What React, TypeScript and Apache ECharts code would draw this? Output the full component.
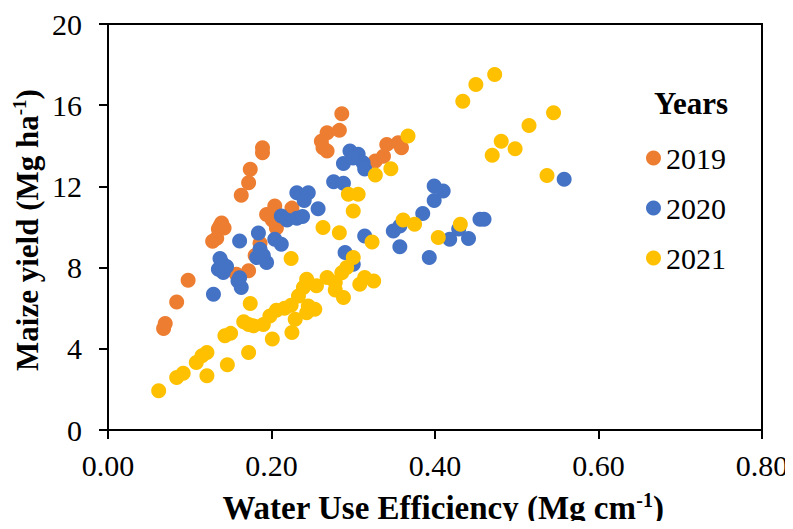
import React, { useEffect, useRef } from "react";
import * as echarts from "echarts";

// Water use efficiency (Mg cm-1) and maize yield (Mg ha-1) per season
const wue2019 = [0.068, 0.070, 0.084, 0.098, 0.128, 0.133, 0.135, 0.139, 0.142, 0.137, 0.157, 0.172, 0.163, 0.172, 0.174, 0.189, 0.189, 0.180, 0.186, 0.194, 0.204, 0.206, 0.201, 0.225, 0.263, 0.261, 0.268, 0.268, 0.283, 0.286, 0.327, 0.337, 0.341, 0.355, 0.359];
const yield2019 = [5.00, 5.25, 6.31, 7.38, 9.30, 9.45, 9.90, 10.20, 9.95, 10.05, 7.67, 7.84, 11.56, 12.18, 12.84, 13.66, 13.90, 8.60, 9.20, 10.62, 11.03, 9.95, 10.35, 10.93, 13.90, 14.23, 14.64, 13.74, 14.76, 15.58, 13.25, 13.49, 14.07, 14.15, 13.90];

const wue2020 = [0.129, 0.135, 0.139, 0.141, 0.137, 0.145, 0.159, 0.163, 0.161, 0.161, 0.184, 0.182, 0.186, 0.194, 0.190, 0.204, 0.212, 0.212, 0.219, 0.231, 0.238, 0.231, 0.245, 0.240, 0.257, 0.276, 0.288, 0.288, 0.296, 0.306, 0.300, 0.312, 0.314, 0.290, 0.300, 0.314, 0.349, 0.357, 0.357, 0.385, 0.393, 0.399, 0.399, 0.410, 0.418, 0.429, 0.441, 0.455, 0.460, 0.558];
const yield2020 = [6.69, 7.92, 8.25, 7.76, 8.45, 8.05, 7.34, 7.02, 7.50, 9.31, 9.70, 8.50, 8.90, 8.25, 8.60, 9.40, 9.15, 10.54, 10.35, 10.43, 10.52, 11.69, 11.69, 11.30, 10.90, 12.23, 12.15, 13.13, 13.74, 13.58, 13.40, 13.17, 12.86, 8.74, 8.17, 9.56, 9.80, 10.05, 9.03, 10.66, 8.50, 11.31, 12.02, 11.77, 9.40, 9.90, 9.43, 10.38, 10.38, 12.35];

const wue2021 = [0.062, 0.084, 0.092, 0.108, 0.115, 0.121, 0.121, 0.143, 0.150, 0.146, 0.172, 0.174, 0.166, 0.172, 0.178, 0.190, 0.198, 0.206, 0.216, 0.224, 0.201, 0.225, 0.229, 0.224, 0.233, 0.239, 0.243, 0.243, 0.253, 0.245, 0.255, 0.268, 0.278, 0.278, 0.288, 0.286, 0.292, 0.300, 0.263, 0.283, 0.300, 0.294, 0.306, 0.308, 0.314, 0.325, 0.323, 0.327, 0.346, 0.361, 0.375, 0.367, 0.404, 0.431, 0.434, 0.450, 0.473, 0.470, 0.481, 0.498, 0.515, 0.537, 0.545];
const yield2021 = [1.93, 2.59, 2.80, 3.33, 3.66, 3.82, 2.67, 4.64, 4.76, 3.21, 3.82, 6.23, 5.33, 5.20, 5.13, 5.20, 5.62, 5.90, 6.00, 6.15, 4.48, 4.80, 5.46, 8.45, 6.60, 7.02, 7.43, 5.78, 5.95, 6.11, 7.10, 7.51, 7.26, 6.90, 6.53, 7.75, 8.00, 8.50, 9.97, 9.72, 10.79, 11.61, 11.61, 7.18, 7.51, 7.34, 9.26, 12.56, 12.87, 10.34, 10.13, 14.48, 9.48, 10.13, 16.20, 17.02, 17.51, 13.54, 14.23, 13.86, 15.00, 12.54, 15.63];

const years = ["2019", "2020", "2021"];
const colors = ["#ED7D31", "#4472C4", "#FFC000"];
const xTicks = { min: 0, max: 0.8, interval: 0.2 };
const yTicks = { min: 0, max: 20, interval: 4 };

const FONT = "Liberation Serif";

function pairs(xs: number[], ys: number[]) {
  return xs.map((x, i) => [x, ys[i]]);
}

function titleRich(size: number) {
  return {
    b: { fontFamily: FONT, fontWeight: "bold", fontSize: size, color: "#000", lineHeight: size + 3 },
    s: { fontFamily: FONT, fontWeight: "bold", fontSize: Math.round(size * 0.6), color: "#000", verticalAlign: "top", lineHeight: size + 3 },
  };
}

export default function App() {
  const ref = useRef<HTMLDivElement>(null);

  useEffect(() => {
    if (!ref.current) return;
    const chart = echarts.init(ref.current, null, { renderer: "svg" });
    const seriesData = [pairs(wue2019, yield2019), pairs(wue2020, yield2020), pairs(wue2021, yield2021)];

    chart.setOption({
      animation: false,
      textStyle: { fontFamily: FONT },
      grid: {
        left: 108,
        right: 31,
        top: 24,
        bottom: 99,
        show: true,
        borderColor: "#000",
        borderWidth: 2,
      },
      xAxis: {
        type: "value",
        ...xTicks,
        splitLine: { show: false },
        axisLine: { show: true, lineStyle: { color: "#000", width: 2 } },
        axisTick: { show: true, inside: false, length: 9, lineStyle: { color: "#000", width: 2 } },
        axisLabel: {
          color: "#000",
          fontFamily: FONT,
          fontSize: 30,
          margin: 20,
          formatter: (v: number) => v.toFixed(2),
        },
      },
      yAxis: {
        type: "value",
        ...yTicks,
        splitLine: { show: false },
        axisLine: { show: true, lineStyle: { color: "#000", width: 2 } },
        axisTick: { show: true, inside: false, length: 9, lineStyle: { color: "#000", width: 2 } },
        axisLabel: { color: "#000", fontFamily: FONT, fontSize: 30, margin: 26 },
      },
      legend: {
        orient: "vertical",
        left: 641,
        top: 138,
        itemWidth: 15,
        itemHeight: 15,
        itemGap: 20,
        icon: "circle",
        data: years,
        textStyle: { color: "#000", fontFamily: FONT, fontSize: 30 },
      },
      graphic: [
        {
          type: "text",
          x: 691,
          y: 103,
          style: {
            text: "Years",
            fontFamily: FONT,
            fontWeight: "bold",
            fontSize: 31,
            fill: "#000",
            align: "center",
            verticalAlign: "middle",
          },
        },
        {
          type: "text",
          x: 443,
          y: 508,
          style: {
            text: "{b|Water Use Efficiency (Mg cm}{s|-1}{b|)}",
            align: "center",
            verticalAlign: "middle",
            rich: titleRich(33),
          },
        },
        {
          type: "text",
          x: 27,
          y: 230,
          rotation: Math.PI / 2,
          style: {
            text: "{b|Maize yield (Mg ha}{s|-1}{b|)}",
            align: "center",
            verticalAlign: "middle",
            rich: titleRich(31),
          },
        },
      ],
      series: years.map((name, i) => ({
        name,
        type: "scatter",
        symbol: "circle",
        symbolSize: 15,
        itemStyle: { color: colors[i], opacity: 1 },
        data: seriesData[i],
      })),
    });

    return () => chart.dispose();
  }, []);

  return <div ref={ref} style={{ width: 793, height: 529, margin: -8 }} />;
}
